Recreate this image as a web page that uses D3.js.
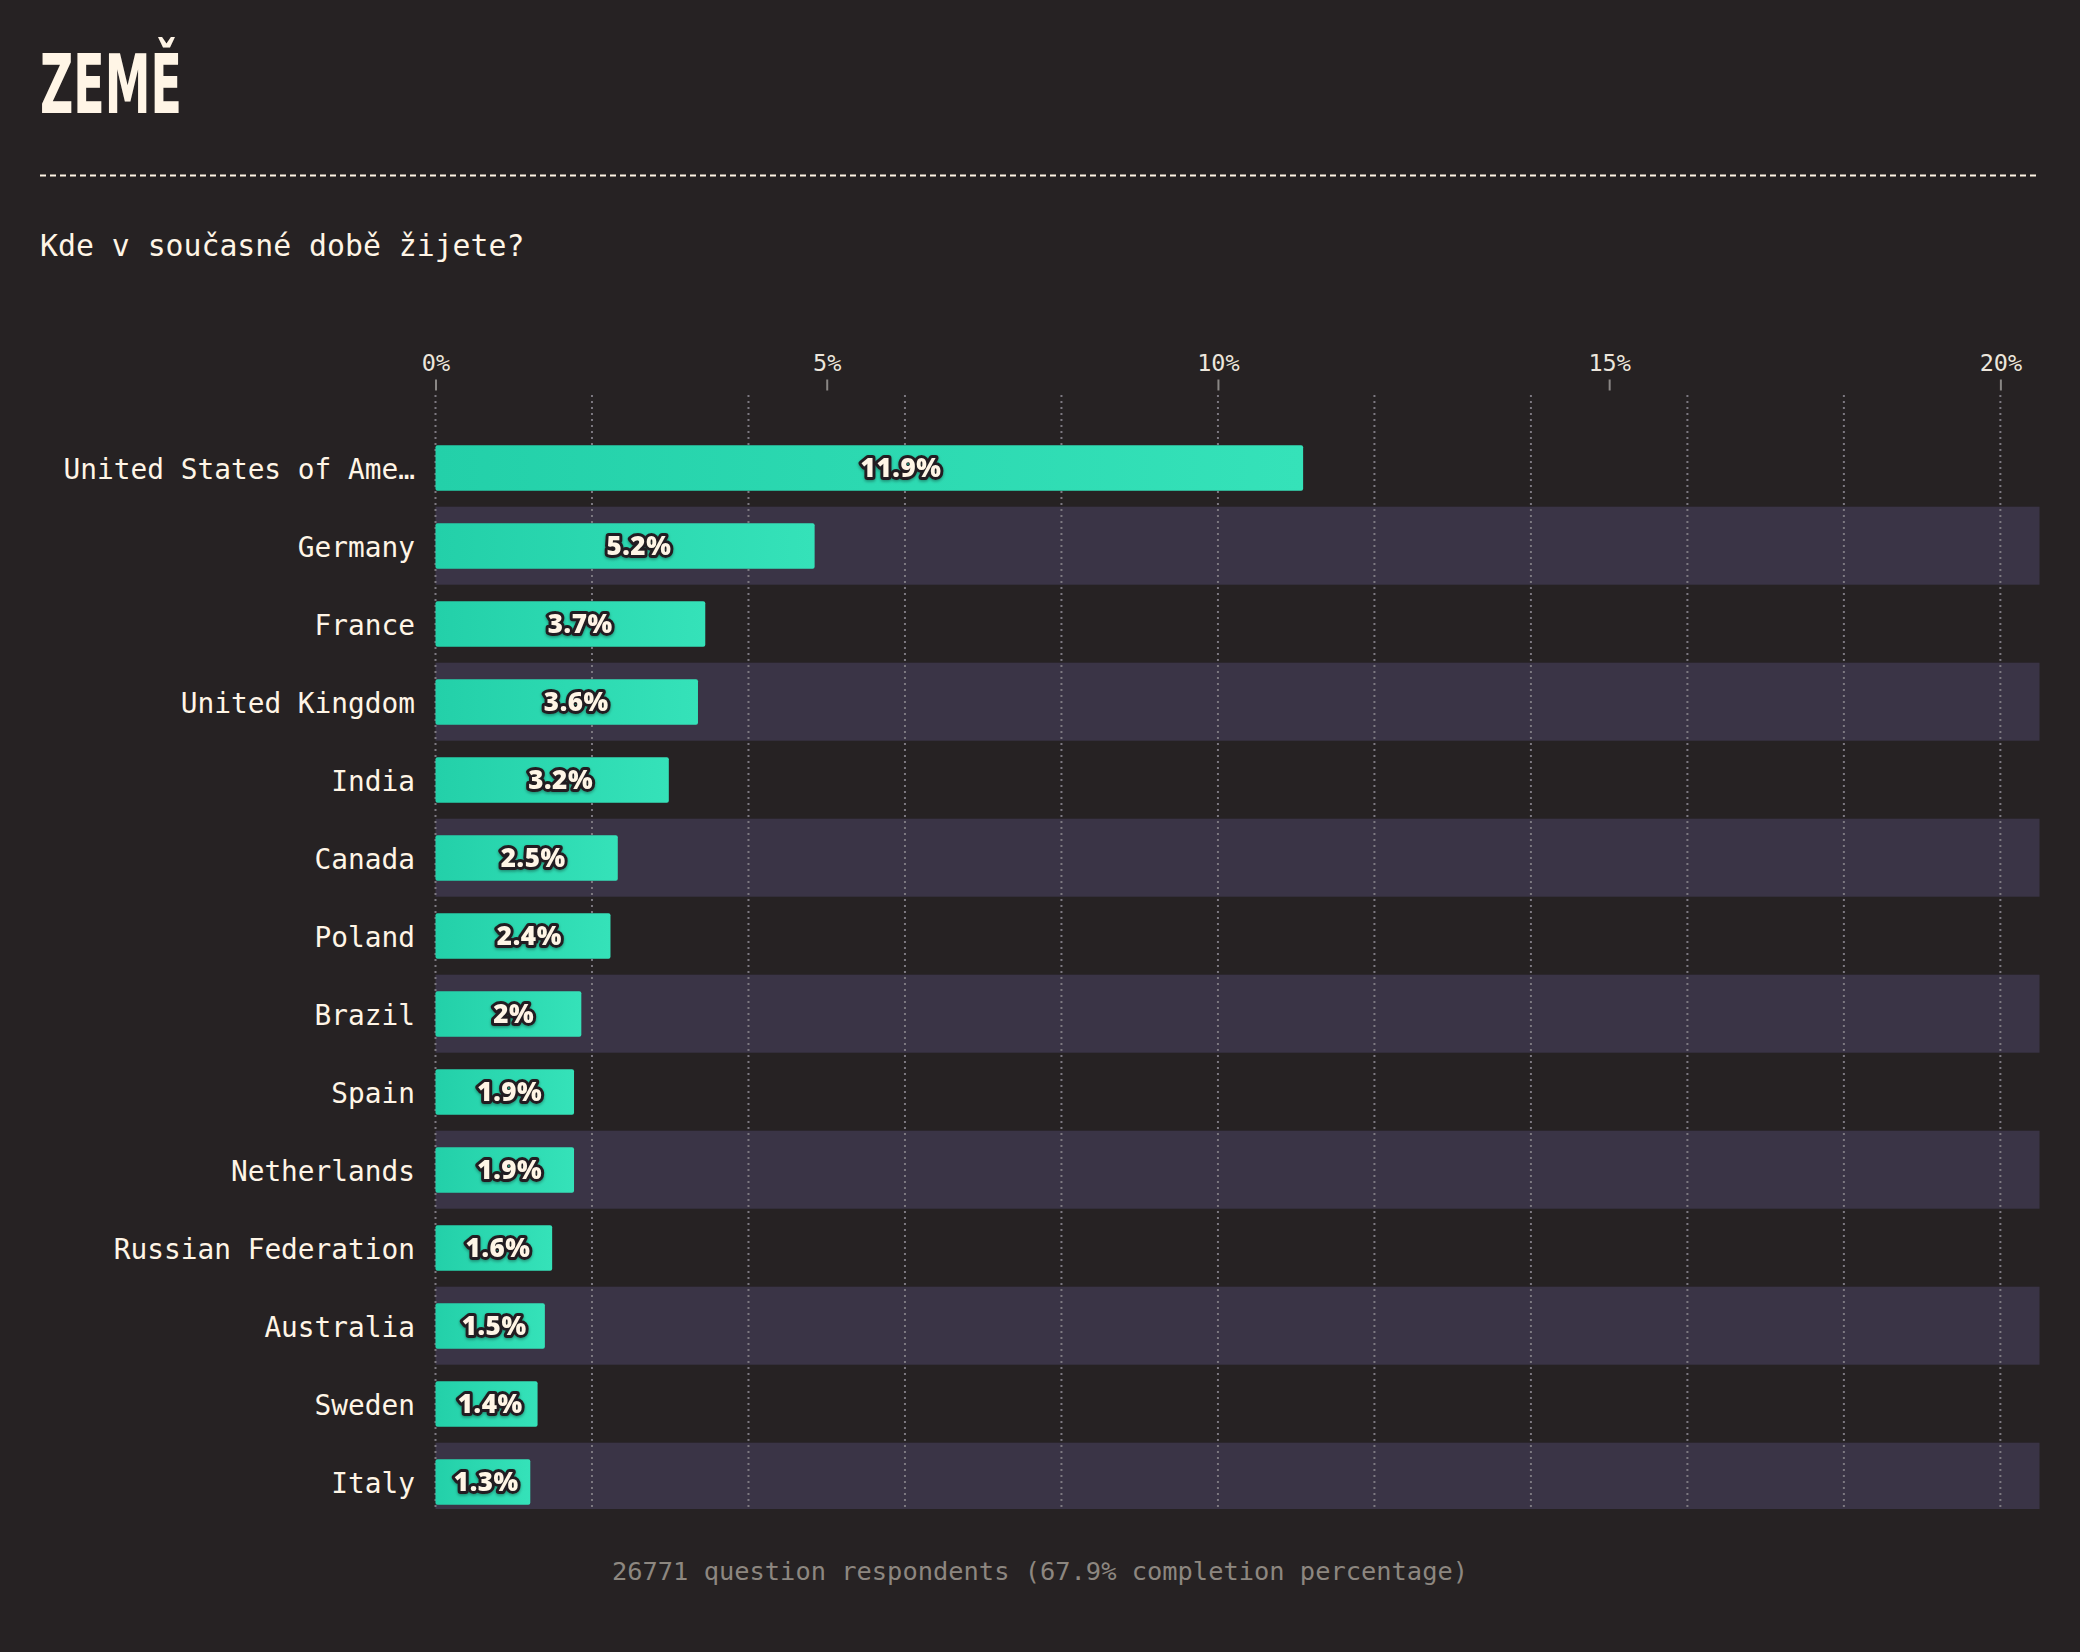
<!DOCTYPE html>
<html>
<head>
<meta charset="utf-8">
<script src="https://cdn.jsdelivr.net/npm/d3@7"></script>
<style>
  html, body { margin: 0; padding: 0; background: #262223; }
  svg { display: block; }
</style>
</head>
<body>
<svg id="chart" width="2080" height="1652"></svg>
<script>
// ---- data ----
const countries = ["United States of Ame…", "Germany", "France", "United Kingdom", "India", "Canada", "Poland", "Brazil", "Spain", "Netherlands", "Russian Federation", "Australia", "Sweden", "Italy"];
const values = [11.9, 5.2, 3.7, 3.6, 3.2, 2.5, 2.4, 2.0, 1.9, 1.9, 1.6, 1.5, 1.4, 1.3];
const valueLabels = ["11.9%", "5.2%", "3.7%", "3.6%", "3.2%", "2.5%", "2.4%", "2%", "1.9%", "1.9%", "1.6%", "1.5%", "1.4%", "1.3%"];
const axisTicks = [0, 5, 10, 15, 20];
const axisTickLabels = ["0%", "5%", "10%", "15%", "20%"];
const gridTicks = [0, 2, 4, 6, 8, 10, 12, 14, 16, 18, 20];
const titleText = "ZEMĚ";
const questionText = "Kde v současné době žijete?";
const footerText = "26771 question respondents (67.9% completion percentage)";

// ---- layout ----
const W = 2080, H = 1652;
const plotLeft = 435.5, plotRight = 2039.5;
const plotTop = 428.7, rowH = 78, clipBottom = 1509;
const cream = "#fff5e6";

const svg = d3.select("#chart");
svg.append("rect").attr("width", W).attr("height", H).attr("fill", "#262223");

const defs = svg.append("defs");
const grad = defs.append("linearGradient").attr("id", "barGrad")
  .attr("x1", "0%").attr("x2", "100%").attr("y1", "0%").attr("y2", "0%");
grad.append("stop").attr("offset", "0%").attr("stop-color", "#23d0a9");
grad.append("stop").attr("offset", "100%").attr("stop-color", "#35e2b9");
defs.append("clipPath").attr("id", "plotClip").append("rect")
  .attr("x", 0).attr("y", 380).attr("width", W).attr("height", clipBottom - 380);
const shadow = defs.append("filter").attr("id", "lblShadow").attr("x", "-20%").attr("y", "-30%").attr("width", "140%").attr("height", "160%");
shadow.append("feDropShadow").attr("dx", 0).attr("dy", 1.5).attr("stdDeviation", 1.5)
  .attr("flood-color", "#000").attr("flood-opacity", 0.35);

// scales
const xAxisScale = d3.scaleLinear().domain([0, 20.5]).range([plotLeft, plotRight]);
const xBarScale = d3.scaleLinear().domain([0, 22]).range([plotLeft, plotRight]);
const y = d3.scaleBand().domain(countries).range([plotTop, plotTop + rowH * countries.length]).padding(0);
const barPad = 16.5, barH = 45.5;

// title
svg.append("text").attr("x", 40).attr("y", 113)
  .attr("font-family", "'DejaVu Sans Condensed', 'DejaVu Sans', sans-serif")
  .attr("font-weight", 700).attr("font-size", 82)
  .attr("textLength", 142).attr("lengthAdjust", "spacingAndGlyphs")
  .attr("fill", cream).text(titleText);

// dashed separator
svg.append("line").attr("x1", 40).attr("x2", 2040).attr("y1", 175.5).attr("y2", 175.5)
  .attr("stroke", cream).attr("stroke-width", 2.2).attr("stroke-dasharray", "6,4");

// question
svg.append("text").attr("x", 40).attr("y", 256)
  .attr("font-family", "'DejaVu Sans Mono', monospace").attr("font-size", 29.8)
  .attr("fill", cream).text(questionText);

const plot = svg.append("g").attr("clip-path", "url(#plotClip)");

// alternating row bands
plot.selectAll("rect.band").data(countries.filter((d, i) => i % 2 === 1)).enter()
  .append("rect").attr("class", "band")
  .attr("x", plotLeft).attr("width", plotRight - plotLeft)
  .attr("y", d => y(d)).attr("height", y.bandwidth())
  .attr("fill", "#3a3446");

// dotted gridlines
plot.selectAll("line.grid").data(gridTicks).enter().append("line")
  .attr("class", "grid")
  .attr("x1", d => xAxisScale(d)).attr("x2", d => xAxisScale(d))
  .attr("y1", 395).attr("y2", clipBottom)
  .attr("stroke", "#7c7880").attr("stroke-width", 2).attr("stroke-dasharray", "2,4");

// axis
const axis = d3.axisTop(xAxisScale).tickValues(axisTicks)
  .tickFormat((d, i) => axisTickLabels[i]).tickSize(11).tickPadding(9);
const axisG = svg.append("g").attr("transform", "translate(0,390.5)").call(axis);
axisG.select(".domain").remove();
axisG.selectAll(".tick line").attr("stroke", "#8a8785").attr("stroke-width", 2);
axisG.selectAll(".tick text")
  .attr("font-family", "'DejaVu Sans Mono', monospace").attr("font-size", 23.5)
  .attr("fill", "#ece6dc");

// bars
plot.selectAll("rect.bar").data(countries).enter().append("rect")
  .attr("class", "bar")
  .attr("x", plotLeft)
  .attr("y", d => y(d) + barPad)
  .attr("width", (d, i) => xBarScale(values[i]) - plotLeft)
  .attr("height", barH)
  .attr("rx", 2).attr("ry", 2)
  .attr("fill", "url(#barGrad)");

// value labels
svg.selectAll("text.val").data(countries).enter().append("text")
  .attr("class", "val")
  .attr("x", (d, i) => xAxisScale(values[i] / 2))
  .attr("y", d => y(d) + y.bandwidth() / 2 + 9)
  .attr("text-anchor", "middle")
  .attr("font-family", "'Open Sans', Lato, sans-serif")
  .attr("font-weight", 800).attr("font-size", 26)
  .attr("letter-spacing", 0.6)
  .attr("fill", cream)
  .attr("stroke", "#231f20").attr("stroke-width", 6).attr("stroke-linejoin", "round")
  .attr("paint-order", "stroke")
  .attr("filter", "url(#lblShadow)")
  .text((d, i) => valueLabels[i]);

// category labels
svg.selectAll("text.cat").data(countries).enter().append("text")
  .attr("class", "cat")
  .attr("x", 415)
  .attr("y", d => y(d) + y.bandwidth() / 2 + 11)
  .attr("text-anchor", "end")
  .attr("font-family", "'DejaVu Sans Mono', monospace").attr("font-size", 27.8)
  .attr("fill", cream)
  .text(d => d);

// footer
svg.append("text").attr("x", 1040).attr("y", 1580)
  .attr("text-anchor", "middle")
  .attr("font-family", "'DejaVu Sans Mono', monospace").attr("font-size", 25.4)
  .attr("fill", "#8d8780").text(footerText);
</script>
</body>
</html>
